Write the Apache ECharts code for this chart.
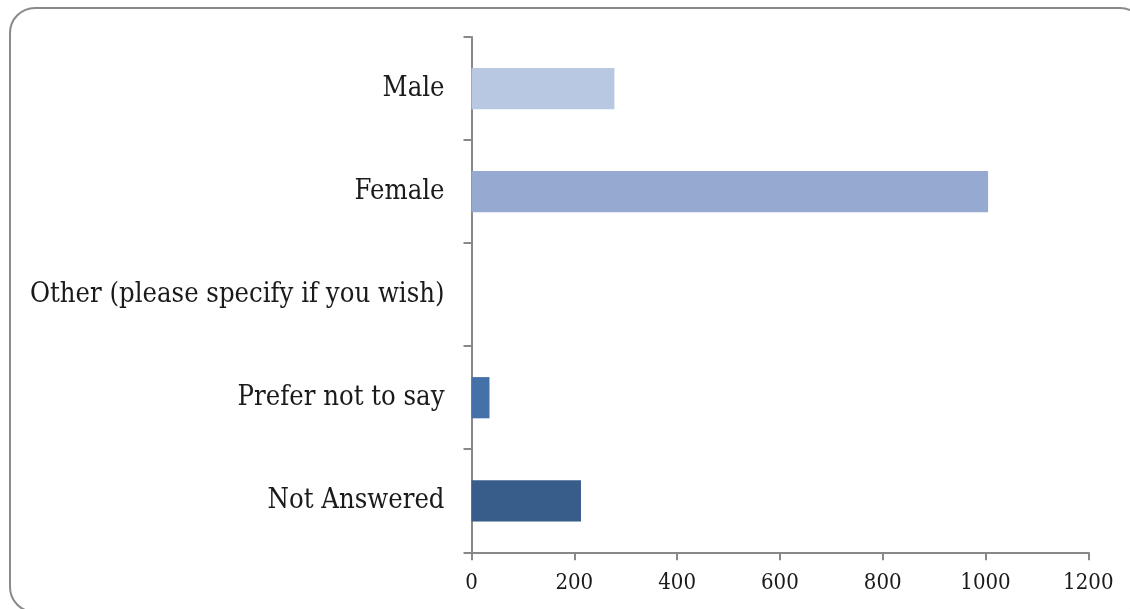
<!DOCTYPE html>
<html>
<head>
<meta charset="utf-8">
<script src="https://cdn.jsdelivr.net/npm/echarts@6/dist/echarts.min.js"></script>
<style>
html,body{margin:0;padding:0;background:#fff;overflow:hidden;}
#frame{position:absolute;left:9px;top:7px;width:1137px;height:606px;border:2.5px solid #8a8a8a;border-radius:26px;box-sizing:border-box;}
#chart{position:absolute;left:0;top:0;width:1130px;height:609px;}
</style>
</head>
<body>
<div id="frame"></div>
<div id="chart"></div>
<script>
const categories = ["Male", "Female", "Other (please specify if you wish)", "Prefer not to say", "Not Answered"];
const values = [278, 1005, 0, 35, 213];
const barColors = ["#B9C8E2", "#95A9D1", "#8EA5CF", "#4472A8", "#385D8A"];
const xTicks = { min: 0, max: 1200, interval: 200 };

const chart = echarts.init(document.getElementById('chart'));
const fontFamily = '"DejaVu Serif Condensed", "DejaVu Serif", serif';
chart.setOption({
  animation: false,
  grid: { left: 471.5, right: 41.7, top: 37, bottom: 56.7, containLabel: false },
  xAxis: {
    type: 'value', min: xTicks.min, max: xTicks.max, interval: xTicks.interval,
    axisLine: { show: true, lineStyle: { color: '#888', width: 2 } },
    axisTick: { show: true, length: 8, lineStyle: { color: '#888', width: 2 } },
    splitLine: { show: false },
    axisLabel: { color: '#1a1a1a', fontSize: 22, fontFamily: fontFamily, margin: 20, formatter: v => String(v) }
  },
  yAxis: {
    type: 'category', data: categories, inverse: true,
    axisLine: { show: true, lineStyle: { color: '#888', width: 2 } },
    axisTick: { show: true, length: 8, alignWithLabel: false, lineStyle: { color: '#888', width: 2 } },
    axisLabel: { color: '#1a1a1a', fontSize: 27.2, fontFamily: fontFamily, margin: 27, padding: [4, 0, 0, 0] }
  },
  series: [{
    type: 'bar',
    data: values.map((v, i) => ({ value: v, itemStyle: { color: barColors[i] } })),
    barWidth: '40%'
  }]
});
</script>
</body>
</html>
